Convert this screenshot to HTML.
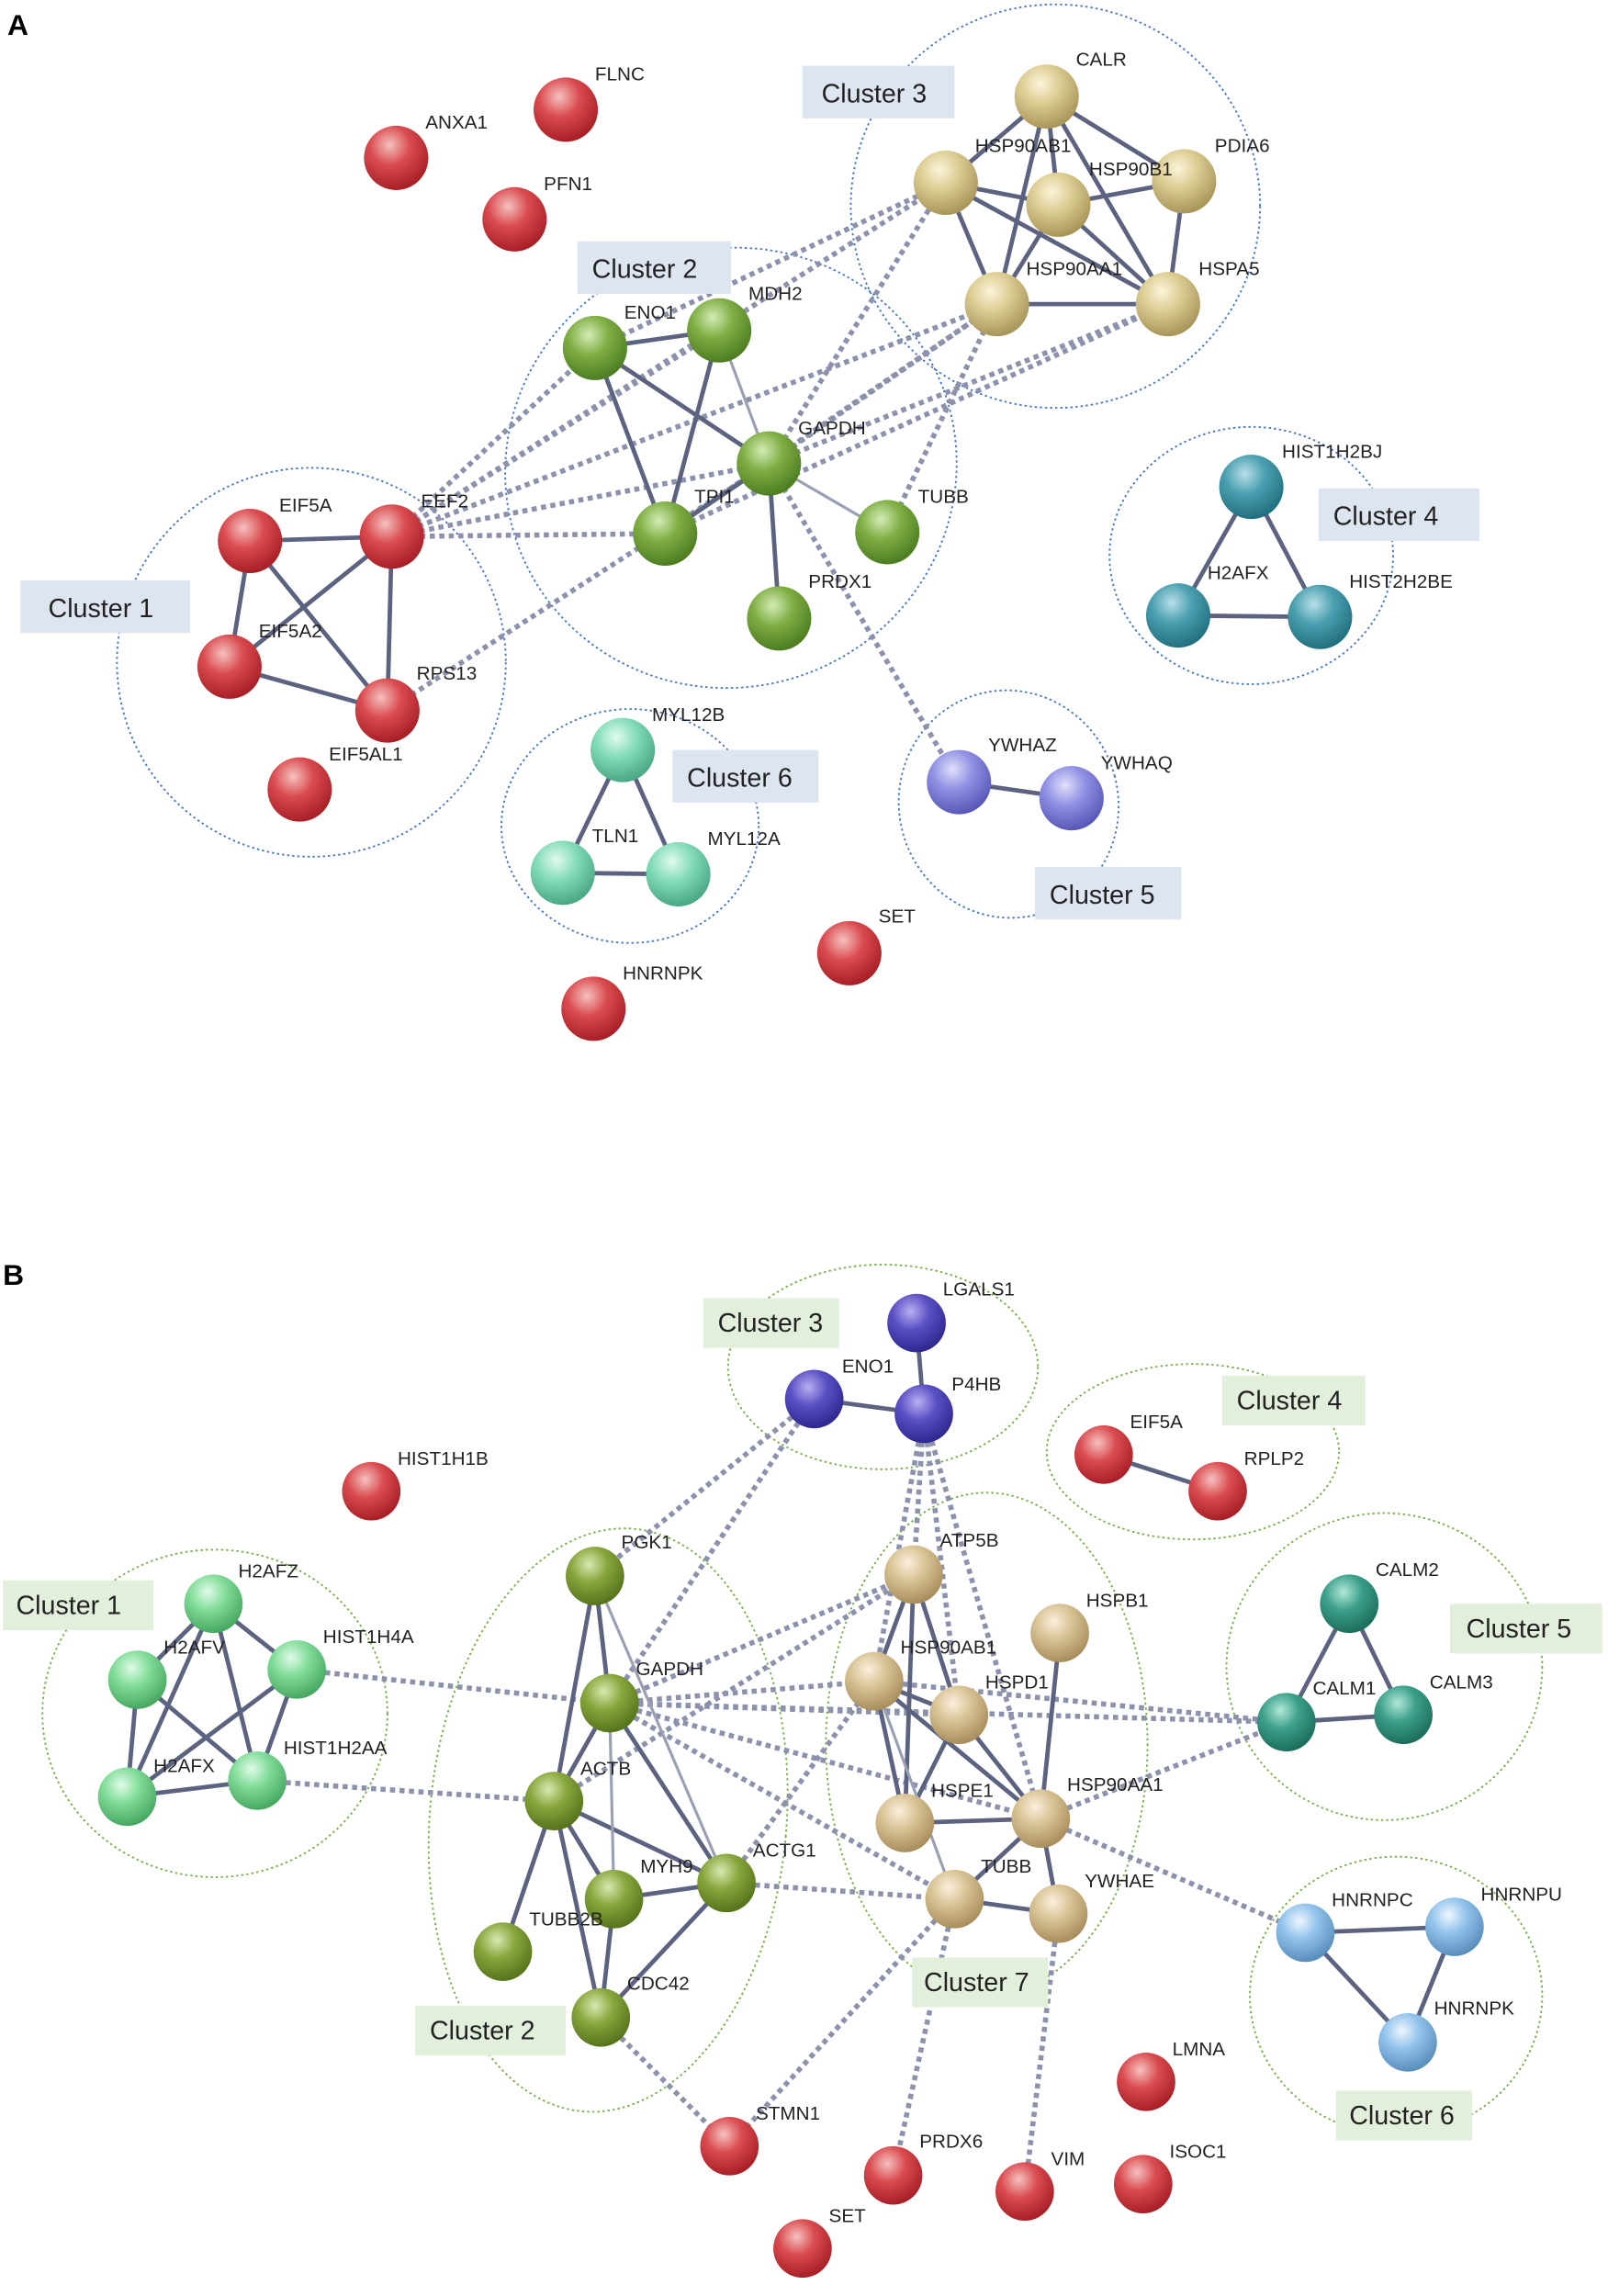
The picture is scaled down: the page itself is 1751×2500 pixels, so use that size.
<!DOCTYPE html>
<html><head><meta charset="utf-8"><style>
html,body{margin:0;padding:0;background:#fff}
svg{display:block}
text{font-family:"Liberation Sans",sans-serif}
.l{font-size:13px;fill:#222}
.c{font-size:18px;fill:#222}
.s{stroke:#5c6380;stroke-width:3;fill:none}
.t{stroke:#9aa0b4;stroke-width:2;fill:none}
.d{stroke:#8c92ac;stroke-width:3.5;stroke-dasharray:3.5 3;fill:none}
.eb{fill:none;stroke:#4a78c8;stroke-width:1.2;stroke-dasharray:1.5 2}
.eg{fill:none;stroke:#7ab048;stroke-width:1.2;stroke-dasharray:1.5 2}
</style></head><body>
<svg width="1751" height="2500" viewBox="0 0 1100 1570.5" xmlns="http://www.w3.org/2000/svg">
<defs>
<radialGradient id="r" cx="40%" cy="30%" r="70%"><stop offset="0" stop-color="#f6c0c0"/><stop offset="0.45" stop-color="#d94b4f"/><stop offset="1" stop-color="#a81f26"/></radialGradient>
<radialGradient id="y" cx="40%" cy="30%" r="70%"><stop offset="0" stop-color="#fbf4d8"/><stop offset="0.45" stop-color="#dccc92"/><stop offset="1" stop-color="#a8955a"/></radialGradient>
<radialGradient id="g" cx="40%" cy="30%" r="70%"><stop offset="0" stop-color="#d4ecb4"/><stop offset="0.45" stop-color="#7fae44"/><stop offset="1" stop-color="#4e7d22"/></radialGradient>
<radialGradient id="tq" cx="40%" cy="30%" r="70%"><stop offset="0" stop-color="#b8e0e8"/><stop offset="0.45" stop-color="#4a9fb0"/><stop offset="1" stop-color="#22707f"/></radialGradient>
<radialGradient id="m" cx="40%" cy="30%" r="70%"><stop offset="0" stop-color="#e0fbef"/><stop offset="0.45" stop-color="#84dcb8"/><stop offset="1" stop-color="#4aa884"/></radialGradient>
<radialGradient id="p" cx="40%" cy="30%" r="70%"><stop offset="0" stop-color="#e0e0fb"/><stop offset="0.45" stop-color="#9090e4"/><stop offset="1" stop-color="#5858b8"/></radialGradient>
<radialGradient id="pb" cx="40%" cy="30%" r="70%"><stop offset="0" stop-color="#b8b0f0"/><stop offset="0.45" stop-color="#5a50c4"/><stop offset="1" stop-color="#2e2890"/></radialGradient>
<radialGradient id="lg" cx="40%" cy="30%" r="70%"><stop offset="0" stop-color="#e0fbe8"/><stop offset="0.45" stop-color="#80dc98"/><stop offset="1" stop-color="#48a862"/></radialGradient>
<radialGradient id="og" cx="40%" cy="30%" r="70%"><stop offset="0" stop-color="#d8e8b0"/><stop offset="0.45" stop-color="#88a63c"/><stop offset="1" stop-color="#56741c"/></radialGradient>
<radialGradient id="bg" cx="40%" cy="30%" r="70%"><stop offset="0" stop-color="#fbf0dc"/><stop offset="0.45" stop-color="#d8c294"/><stop offset="1" stop-color="#a88e5c"/></radialGradient>
<radialGradient id="tl" cx="40%" cy="30%" r="70%"><stop offset="0" stop-color="#b0e8d8"/><stop offset="0.45" stop-color="#3ca08a"/><stop offset="1" stop-color="#1c6e5c"/></radialGradient>
<radialGradient id="lb" cx="40%" cy="30%" r="70%"><stop offset="0" stop-color="#eef6ff"/><stop offset="0.45" stop-color="#90c2ea"/><stop offset="1" stop-color="#5a8ebc"/></radialGradient>
</defs>

<text x="5" y="24" font-size="20" font-weight="bold">A</text>
<text x="2" y="879" font-size="20" font-weight="bold">B</text>

<!-- Panel A clusters -->
<ellipse class="eb" cx="722" cy="141" rx="140" ry="138"/>
<ellipse class="eb" cx="500" cy="320" rx="155" ry="150" transform="rotate(-20 500 320)"/>
<ellipse class="eb" cx="213" cy="453" rx="133" ry="133"/>
<ellipse class="eb" cx="856" cy="380" rx="97" ry="88"/>
<ellipse class="eb" cx="431" cy="565" rx="88" ry="80"/>
<ellipse class="eb" cx="690" cy="550" rx="75" ry="78" transform="rotate(-15 690 550)"/>

<!-- A dashed -->
<g class="d">
<line x1="268" y1="367" x2="407" y2="238"/>
<line x1="268" y1="367" x2="492" y2="226"/>
<line x1="268" y1="367" x2="526" y2="317"/>
<line x1="268" y1="367" x2="455" y2="365"/>
<line x1="268" y1="367" x2="647" y2="125"/>
<line x1="268" y1="367" x2="682" y2="208"/>
<line x1="265" y1="486" x2="526" y2="317"/>
<line x1="407" y1="238" x2="647" y2="125"/>
<line x1="455" y1="365" x2="682" y2="208"/>
<line x1="455" y1="365" x2="799" y2="208"/>
<line x1="526" y1="317" x2="647" y2="125"/>
<line x1="526" y1="317" x2="682" y2="208"/>
<line x1="526" y1="317" x2="799" y2="208"/>
<line x1="607" y1="364" x2="682" y2="208"/>
<line x1="526" y1="317" x2="656" y2="535"/>
</g>
<!-- A solid -->
<g class="s">
<line x1="716" y1="66" x2="647" y2="125"/><line x1="716" y1="66" x2="724" y2="140"/><line x1="716" y1="66" x2="799" y2="208"/><line x1="716" y1="66" x2="810" y2="124"/><line x1="716" y1="66" x2="682" y2="208"/>
<line x1="647" y1="125" x2="724" y2="140"/><line x1="647" y1="125" x2="682" y2="208"/><line x1="647" y1="125" x2="799" y2="208"/>
<line x1="724" y1="140" x2="810" y2="124"/><line x1="724" y1="140" x2="682" y2="208"/><line x1="724" y1="140" x2="799" y2="208"/>
<line x1="810" y1="124" x2="799" y2="208"/><line x1="682" y1="208" x2="799" y2="208"/>
<line x1="407" y1="238" x2="492" y2="226"/><line x1="407" y1="238" x2="455" y2="365"/><line x1="407" y1="238" x2="526" y2="317"/>
<line x1="492" y1="226" x2="455" y2="365"/><line x1="455" y1="365" x2="526" y2="317"/>
<line x1="526" y1="317" x2="533" y2="423"/>
<line x1="171" y1="370" x2="268" y2="367"/><line x1="171" y1="370" x2="157" y2="456"/><line x1="171" y1="370" x2="265" y2="486"/>
<line x1="268" y1="367" x2="157" y2="456"/><line x1="268" y1="367" x2="265" y2="486"/><line x1="157" y1="456" x2="265" y2="486"/>
<line x1="856" y1="333" x2="806" y2="421"/><line x1="856" y1="333" x2="903" y2="422"/><line x1="806" y1="421" x2="903" y2="422"/>
<line x1="426" y1="513" x2="385" y2="597"/><line x1="426" y1="513" x2="464" y2="598"/><line x1="385" y1="597" x2="464" y2="598"/>
<line x1="656" y1="535" x2="733" y2="546"/>
</g>
<g class="t"><line x1="492" y1="226" x2="526" y2="317"/><line x1="526" y1="317" x2="607" y2="364"/></g>

<!-- A nodes -->
<g>
<circle cx="271" cy="108" r="22" fill="url(#r)"/><circle cx="387" cy="75" r="22" fill="url(#r)"/><circle cx="352" cy="150" r="22" fill="url(#r)"/>
<circle cx="716" cy="66" r="22" fill="url(#y)"/><circle cx="647" cy="125" r="22" fill="url(#y)"/><circle cx="724" cy="140" r="22" fill="url(#y)"/><circle cx="810" cy="124" r="22" fill="url(#y)"/><circle cx="682" cy="208" r="22" fill="url(#y)"/><circle cx="799" cy="208" r="22" fill="url(#y)"/>
<circle cx="407" cy="238" r="22" fill="url(#g)"/><circle cx="492" cy="226" r="22" fill="url(#g)"/><circle cx="526" cy="317" r="22" fill="url(#g)"/><circle cx="455" cy="365" r="22" fill="url(#g)"/><circle cx="607" cy="364" r="22" fill="url(#g)"/><circle cx="533" cy="423" r="22" fill="url(#g)"/>
<circle cx="171" cy="370" r="22" fill="url(#r)"/><circle cx="268" cy="367" r="22" fill="url(#r)"/><circle cx="157" cy="456" r="22" fill="url(#r)"/><circle cx="265" cy="486" r="22" fill="url(#r)"/><circle cx="205" cy="540" r="22" fill="url(#r)"/>
<circle cx="856" cy="333" r="22" fill="url(#tq)"/><circle cx="806" cy="421" r="22" fill="url(#tq)"/><circle cx="903" cy="422" r="22" fill="url(#tq)"/>
<circle cx="426" cy="513" r="22" fill="url(#m)"/><circle cx="385" cy="597" r="22" fill="url(#m)"/><circle cx="464" cy="598" r="22" fill="url(#m)"/>
<circle cx="656" cy="535" r="22" fill="url(#p)"/><circle cx="733" cy="546" r="22" fill="url(#p)"/>
<circle cx="581" cy="652" r="22" fill="url(#r)"/><circle cx="406" cy="690" r="22" fill="url(#r)"/>
</g>
<!-- A labels -->
<g class="l">
<text x="291" y="88">ANXA1</text><text x="407" y="55">FLNC</text><text x="372" y="130">PFN1</text>
<text x="736" y="45">CALR</text><text x="667" y="104">HSP90AB1</text><text x="745" y="120">HSP90B1</text><text x="831" y="104">PDIA6</text><text x="702" y="188">HSP90AA1</text><text x="820" y="188">HSPA5</text>
<text x="427" y="218">ENO1</text><text x="512" y="205">MDH2</text><text x="546" y="297">GAPDH</text><text x="475" y="344">TPI1</text><text x="628" y="344">TUBB</text><text x="553" y="402">PRDX1</text>
<text x="191" y="350">EIF5A</text><text x="288" y="347">EEF2</text><text x="177" y="436">EIF5A2</text><text x="285" y="465">RPS13</text><text x="225" y="520">EIF5AL1</text>
<text x="877" y="313">HIST1H2BJ</text><text x="826" y="396">H2AFX</text><text x="923" y="402">HIST2H2BE</text>
<text x="446" y="493">MYL12B</text><text x="405" y="576">TLN1</text><text x="484" y="578">MYL12A</text>
<text x="676" y="514">YWHAZ</text><text x="753" y="526">YWHAQ</text>
<text x="601" y="631">SET</text><text x="426" y="670">HNRNPK</text>
</g>
<!-- A cluster labels -->
<g fill="#dde5f1">
<rect x="549" y="45" width="104" height="36"/><rect x="395" y="165" width="105" height="36"/><rect x="14" y="397" width="116" height="36"/><rect x="902" y="334" width="110" height="36"/><rect x="460" y="513" width="100" height="36"/><rect x="708" y="593" width="100" height="36"/>
</g>
<g class="c">
<text x="562" y="70">Cluster 3</text><text x="405" y="190">Cluster 2</text><text x="33" y="422">Cluster 1</text><text x="912" y="359">Cluster 4</text><text x="470" y="538">Cluster 6</text><text x="718" y="618">Cluster 5</text>
</g>

<!-- Panel B clusters -->
<ellipse class="eg" cx="604" cy="935" rx="106" ry="70"/>
<ellipse class="eg" cx="816" cy="993" rx="100" ry="60"/>
<ellipse class="eg" cx="147" cy="1172" rx="118" ry="112"/>
<ellipse class="eg" cx="416" cy="1245" rx="122" ry="200" transform="rotate(5 416 1245)"/>
<ellipse class="eg" cx="675" cy="1193" rx="110" ry="172"/>
<ellipse class="eg" cx="947" cy="1140" rx="108" ry="105"/>
<ellipse class="eg" cx="955" cy="1365" rx="100" ry="95"/>

<!-- B dashed -->
<g class="d">
<line x1="557" y1="957" x2="407" y2="1078"/>
<line x1="557" y1="957" x2="417" y2="1165"/>
<line x1="632" y1="967" x2="625" y2="1077"/>
<line x1="632" y1="967" x2="656" y2="1173"/>
<line x1="632" y1="967" x2="712" y2="1244"/>
<line x1="632" y1="967" x2="598" y2="1150"/>
<line x1="203" y1="1142" x2="417" y2="1165"/>
<line x1="176" y1="1218" x2="379" y2="1232"/>
<line x1="417" y1="1165" x2="598" y2="1150"/>
<line x1="417" y1="1165" x2="656" y2="1173"/>
<line x1="417" y1="1165" x2="625" y2="1077"/>
<line x1="417" y1="1165" x2="712" y2="1244"/>
<line x1="417" y1="1165" x2="880" y2="1178"/>
<line x1="417" y1="1165" x2="653" y2="1299"/>
<line x1="379" y1="1232" x2="625" y2="1077"/>
<line x1="497" y1="1288" x2="653" y2="1299"/>
<line x1="497" y1="1288" x2="598" y2="1150"/>
<line x1="712" y1="1244" x2="880" y2="1178"/>
<line x1="712" y1="1244" x2="893" y2="1322"/>
<line x1="598" y1="1150" x2="880" y2="1178"/>
<line x1="411" y1="1380" x2="499" y2="1468"/>
<line x1="653" y1="1299" x2="499" y2="1468"/>
<line x1="653" y1="1299" x2="611" y2="1488"/>
<line x1="724" y1="1309" x2="701" y2="1499"/>
</g>
<!-- B solid -->
<g class="s">
<line x1="627" y1="905" x2="632" y2="967"/><line x1="557" y1="957" x2="632" y2="967"/><line x1="755" y1="995" x2="833" y2="1020"/>
<line x1="146" y1="1097" x2="94" y2="1149"/><line x1="146" y1="1097" x2="203" y2="1142"/><line x1="146" y1="1097" x2="87" y2="1229"/><line x1="146" y1="1097" x2="176" y2="1218"/>
<line x1="94" y1="1149" x2="87" y2="1229"/><line x1="94" y1="1149" x2="176" y2="1218"/><line x1="203" y1="1142" x2="176" y2="1218"/><line x1="87" y1="1229" x2="176" y2="1218"/><line x1="203" y1="1142" x2="87" y2="1229"/>
<line x1="407" y1="1078" x2="417" y2="1165"/><line x1="407" y1="1078" x2="379" y2="1232"/><line x1="417" y1="1165" x2="379" y2="1232"/><line x1="417" y1="1165" x2="497" y2="1288"/>
<line x1="379" y1="1232" x2="420" y2="1299"/><line x1="379" y1="1232" x2="497" y2="1288"/><line x1="379" y1="1232" x2="344" y2="1335"/><line x1="379" y1="1232" x2="411" y2="1380"/>
<line x1="420" y1="1299" x2="497" y2="1288"/><line x1="420" y1="1299" x2="411" y2="1380"/><line x1="497" y1="1288" x2="411" y2="1380"/>
<line x1="625" y1="1077" x2="598" y2="1150"/><line x1="625" y1="1077" x2="656" y2="1173"/><line x1="625" y1="1077" x2="619" y2="1247"/>
<line x1="598" y1="1150" x2="656" y2="1173"/><line x1="598" y1="1150" x2="619" y2="1247"/><line x1="598" y1="1150" x2="712" y2="1244"/>
<line x1="656" y1="1173" x2="619" y2="1247"/><line x1="656" y1="1173" x2="712" y2="1244"/><line x1="725" y1="1117" x2="712" y2="1244"/>
<line x1="619" y1="1247" x2="712" y2="1244"/><line x1="712" y1="1244" x2="653" y2="1299"/><line x1="712" y1="1244" x2="724" y2="1309"/><line x1="653" y1="1299" x2="724" y2="1309"/>
<line x1="923" y1="1097" x2="880" y2="1178"/><line x1="923" y1="1097" x2="960" y2="1173"/><line x1="880" y1="1178" x2="960" y2="1173"/>
<line x1="893" y1="1322" x2="995" y2="1318"/><line x1="893" y1="1322" x2="963" y2="1397"/><line x1="995" y1="1318" x2="963" y2="1397"/>
</g>
<g class="t"><line x1="407" y1="1078" x2="497" y2="1288"/><line x1="417" y1="1165" x2="420" y2="1299"/><line x1="598" y1="1150" x2="653" y2="1299"/></g>

<!-- B nodes -->
<g>
<circle cx="627" cy="905" r="20" fill="url(#pb)"/><circle cx="557" cy="957" r="20" fill="url(#pb)"/><circle cx="632" cy="967" r="20" fill="url(#pb)"/>
<circle cx="755" cy="995" r="20" fill="url(#r)"/><circle cx="833" cy="1020" r="20" fill="url(#r)"/><circle cx="254" cy="1020" r="20" fill="url(#r)"/>
<circle cx="146" cy="1097" r="20" fill="url(#lg)"/><circle cx="94" cy="1149" r="20" fill="url(#lg)"/><circle cx="203" cy="1142" r="20" fill="url(#lg)"/><circle cx="87" cy="1229" r="20" fill="url(#lg)"/><circle cx="176" cy="1218" r="20" fill="url(#lg)"/>
<circle cx="407" cy="1078" r="20" fill="url(#og)"/><circle cx="417" cy="1165" r="20" fill="url(#og)"/><circle cx="379" cy="1232" r="20" fill="url(#og)"/><circle cx="420" cy="1299" r="20" fill="url(#og)"/><circle cx="497" cy="1288" r="20" fill="url(#og)"/><circle cx="344" cy="1335" r="20" fill="url(#og)"/><circle cx="411" cy="1380" r="20" fill="url(#og)"/>
<circle cx="625" cy="1077" r="20" fill="url(#bg)"/><circle cx="725" cy="1117" r="20" fill="url(#bg)"/><circle cx="598" cy="1150" r="20" fill="url(#bg)"/><circle cx="656" cy="1173" r="20" fill="url(#bg)"/><circle cx="619" cy="1247" r="20" fill="url(#bg)"/><circle cx="712" cy="1244" r="20" fill="url(#bg)"/><circle cx="653" cy="1299" r="20" fill="url(#bg)"/><circle cx="724" cy="1309" r="20" fill="url(#bg)"/>
<circle cx="923" cy="1097" r="20" fill="url(#tl)"/><circle cx="880" cy="1178" r="20" fill="url(#tl)"/><circle cx="960" cy="1173" r="20" fill="url(#tl)"/>
<circle cx="893" cy="1322" r="20" fill="url(#lb)"/><circle cx="995" cy="1318" r="20" fill="url(#lb)"/><circle cx="963" cy="1397" r="20" fill="url(#lb)"/>
<circle cx="784" cy="1424" r="20" fill="url(#r)"/><circle cx="782" cy="1494" r="20" fill="url(#r)"/><circle cx="499" cy="1468" r="20" fill="url(#r)"/><circle cx="611" cy="1488" r="20" fill="url(#r)"/><circle cx="701" cy="1499" r="20" fill="url(#r)"/><circle cx="549" cy="1538" r="20" fill="url(#r)"/>
</g>
<g class="l" font-size="12">
<text x="645" y="886">LGALS1</text><text x="576" y="939">ENO1</text><text x="651" y="951">P4HB</text>
<text x="773" y="977">EIF5A</text><text x="851" y="1002">RPLP2</text><text x="272" y="1002">HIST1H1B</text>
<text x="163" y="1079">H2AFZ</text><text x="112" y="1131">H2AFV</text><text x="221" y="1124">HIST1H4A</text><text x="105" y="1212">H2AFX</text><text x="194" y="1200">HIST1H2AA</text>
<text x="425" y="1059">PGK1</text><text x="435" y="1146">GAPDH</text><text x="397" y="1214">ACTB</text><text x="438" y="1281">MYH9</text><text x="515" y="1270">ACTG1</text><text x="362" y="1317">TUBB2B</text><text x="429" y="1361">CDC42</text>
<text x="643" y="1058">ATP5B</text><text x="743" y="1099">HSPB1</text><text x="616" y="1131">HSP90AB1</text><text x="674" y="1155">HSPD1</text><text x="637" y="1229">HSPE1</text><text x="730" y="1225">HSP90AA1</text><text x="671" y="1281">TUBB</text><text x="742" y="1291">YWHAE</text>
<text x="941" y="1078">CALM2</text><text x="898" y="1159">CALM1</text><text x="978" y="1155">CALM3</text>
<text x="911" y="1304">HNRNPC</text><text x="1013" y="1300">HNRNPU</text><text x="981" y="1378">HNRNPK</text>
<text x="802" y="1406">LMNA</text><text x="800" y="1476">ISOC1</text><text x="517" y="1450">STMN1</text><text x="629" y="1469">PRDX6</text><text x="719" y="1481">VIM</text><text x="567" y="1520">SET</text>
</g>
<g fill="#e2efda">
<rect x="481" y="888" width="93" height="34"/><rect x="836" y="941" width="98" height="34"/><rect x="2" y="1081" width="103" height="34"/><rect x="992" y="1097" width="104" height="34"/><rect x="284" y="1372" width="103" height="34"/><rect x="624" y="1339" width="93" height="34"/><rect x="914" y="1430" width="93" height="34"/>
</g>
<g class="c" font-size="17">
<text x="491" y="911">Cluster 3</text><text x="846" y="964">Cluster 4</text><text x="11" y="1104">Cluster 1</text><text x="1003" y="1120">Cluster 5</text><text x="294" y="1395">Cluster 2</text><text x="632" y="1362">Cluster 7</text><text x="923" y="1453">Cluster 6</text>
</g>
</svg>
</body></html>
